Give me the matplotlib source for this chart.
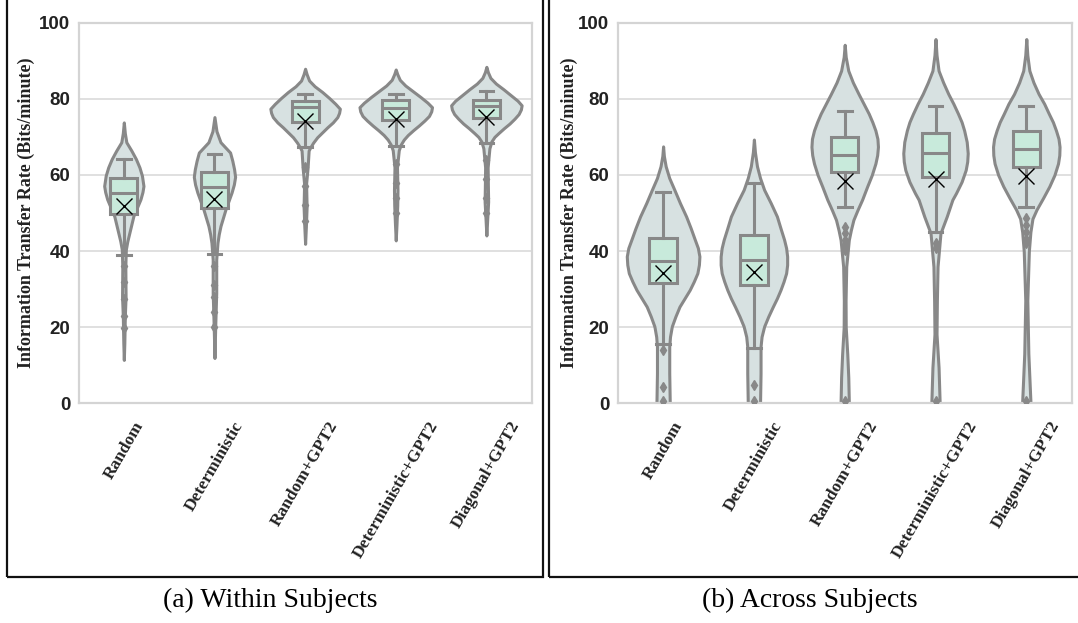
import numpy as np
import matplotlib
matplotlib.use("Agg")
import matplotlib.pyplot as plt
from matplotlib.patches import Rectangle

categories = ["Random", "Deterministic", "Random+GPT2", "Deterministic+GPT2", "Diagonal+GPT2"]

# ---- (a) within subjects ----
# box statistics
a_whislo = [38.9, 39.3, 67.3, 67.6, 68.4]
a_q1 = [49.7, 51.3, 74.0, 74.5, 74.9]
a_med = [55.2, 56.9, 77.8, 77.6, 78.0]
a_q3 = [59.3, 60.8, 79.3, 79.6, 79.8]
a_whishi = [64.2, 65.5, 81.3, 81.3, 82.0]
a_mean = [51.9, 53.6, 74.3, 74.8, 75.2]
a_fliers = [[36, 32, 27.3, 22.9, 19.8], [36, 31, 28, 24, 20],
            [62, 57, 52, 48], [63, 58, 54, 50], [64, 59, 54, 50]]
# violin outline: values and relative density
a_kde_y = [
    [11.4, 15.8, 22.9, 28, 36, 40.4, 42.6, 44.8, 47, 49.2, 51.4, 53.6, 55.5, 57.1, 59.8, 62, 64.2, 66.4, 68.6, 71, 73.8],
    [11.9, 20.2, 29, 37.8, 42.2, 44.4, 46.6, 48.8, 51, 53.2, 55.4, 57.5, 59.5, 61.5, 63.7, 65.9, 68.6, 71.5, 75.2],
    [41.9, 46.3, 51.6, 57.7, 62, 66.4, 67.2, 68.5, 69.9, 71.2, 72.5, 73.8, 75.2, 76.3, 77.4, 78.7, 80.2, 81.8, 83.3, 84.8, 86.5, 87.9],
    [42.8, 47, 52, 56, 62, 66.5, 68, 69.3, 70.5, 71.8, 73, 74.3, 75.5, 76.7, 77.8, 79, 80.5, 82, 83.5, 85, 86.5, 87.7],
    [44.1, 48, 53, 57, 62, 67, 68.8, 70, 71, 72.3, 73.5, 74.8, 76, 77.2, 78.3, 79.5, 81, 82.5, 84, 85.5, 87, 88.4],
]
a_kde_d = [
    [0, 1, 2, 3.5, 3, 4, 7, 11, 15, 19, 26, 33, 37, 39, 36, 31, 24, 15, 5, 2, 0],
    [0, 1.5, 3.5, 3.5, 6, 8.5, 12, 17, 22, 28, 34, 38.5, 41, 39, 35.5, 31, 12, 4, 0],
    [0, 1.5, 3, 2, 5, 7, 10, 16, 24, 34, 44, 55, 64, 67.5, 69, 60, 48, 34, 19, 8, 3, 0],
    [0, 1.5, 3, 3.5, 2.5, 6, 10, 16, 24, 35, 46, 57, 66, 70.5, 72, 63, 49, 34, 19, 8, 3, 0],
    [0, 1.5, 3.5, 3, 2.5, 6, 10, 16, 24, 35, 46, 56, 64, 68.5, 70, 62, 48, 34, 19, 8, 3, 0],
]

# ---- (b) across subjects ----
b_whislo = [15.6, 14.5, 51.6, 44.9, 51.5]
b_q1 = [31.6, 31.0, 60.9, 59.4, 62.2]
b_med = [37.3, 37.7, 65.2, 65.7, 66.7]
b_q3 = [43.4, 44.3, 70.0, 71.0, 71.5]
b_whishi = [55.4, 57.9, 76.8, 78.0, 78.0]
b_mean = [34.2, 34.6, 58.5, 58.9, 59.6]
b_fliers = [[13.9, 4.2, 0.5], [4.8, 0.5],
            [46.4, 44.7, 42.9, 41.6, 40.3, 0.5], [42, 40.7, 0.5],
            [48.6, 46.9, 45.1, 43.3, 42, 0.5]]
b_kde_y = [
    [-4, 0, 7.9, 14.9, 17.5, 20.2, 22.8, 25.4, 27.6, 29.8, 32, 34.2, 36.4, 38.6, 40.8, 43, 46, 49.1, 52.6, 56.1, 59.2, 62.3, 65, 67.5],
    [-4, 0, 7.9, 14.9, 17.5, 20.2, 22.8, 25.4, 27.6, 29.8, 32, 34.2, 36.4, 38.6, 40.8, 43, 46, 49.1, 52.6, 56.1, 59.2, 62.3, 66, 69.3],
    [-4, 0.6, 6.8, 13, 20, 27, 35.9, 42.9, 45.5, 48.2, 50.8, 53.5, 57, 60, 63, 65.2, 67.4, 69.5, 71.7, 73.9, 76.1, 78.7, 81.3, 84.3, 87.4, 91, 94.2],
    [-4, 0.6, 9.4, 18.2, 27, 35.9, 44.7, 49.1, 53.5, 55.2, 58.2, 61.3, 63.5, 65.7, 68.7, 71.7, 73.9, 76.1, 78.7, 81.3, 84.3, 87.4, 91.5, 95.7],
    [-4, 0.6, 13, 27, 40, 45, 48.5, 50.9, 54, 57, 60, 63, 65.2, 67.4, 69.5, 71.7, 73.9, 76.1, 78.7, 81.3, 84.3, 87.4, 91.5, 95.7],
]
b_kde_d = [
    [11, 13, 12, 12, 13.5, 17, 24, 32, 42, 52, 60, 67, 70, 71, 68, 62, 54, 45, 33, 22, 12, 5, 1.5, 0],
    [10, 12, 13, 13, 15, 20, 28, 37, 45, 52, 58, 63, 65, 65, 63, 59, 52, 45, 33, 20, 12, 6, 2, 0],
    [7, 8, 7, 5, 2, 1.7, 3, 8, 12, 17, 25, 34, 44, 53, 60, 63.5, 65, 64, 60, 54, 47, 37, 27, 16, 7, 2, 0],
    [7, 8, 6, 2, 2.7, 4, 9.7, 22, 33, 40, 51, 59, 62, 63, 61, 56, 51, 44, 35, 25, 15, 6, 2, 0],
    [7, 8, 4, 2, 5, 8, 12, 20, 33, 45, 55, 62, 64.5, 65, 63, 58, 52, 44, 35, 24, 14, 6, 2, 0],
]

yticks = [0, 20, 40, 60, 80, 100]

LINE = "#888888"
VIOLIN_FACE = "#d7e1e1"
BOX_FACE = "#c8eadb"
SERIF = ["Liberation Serif", "DejaVu Serif"]
SANS = ["Liberation Sans", "DejaVu Sans"]


def draw_panel(ax, whislo, q1, med, q3, whishi, mean, fliers, kde_y, kde_d):
    pos = np.arange(len(categories))
    dmax = max(max(d) for d in kde_d)

    # violins (area scaling like seaborn)
    vpstats = []
    widths = []
    for ys, ds in zip(kde_y, kde_d):
        vpstats.append(dict(coords=np.array(ys, float), vals=np.array(ds, float),
                            mean=0, median=0, min=min(ys), max=max(ys)))
        widths.append(0.8 * max(ds) / dmax)
    vp = ax.violin(vpstats, positions=pos, widths=widths, showmeans=False,
                   showextrema=False, showmedians=False)
    for body in vp["bodies"]:
        body.set_facecolor(VIOLIN_FACE)
        body.set_edgecolor(LINE)
        body.set_linewidth(2.2)
        body.set_joinstyle("round")
        body.set_alpha(1)
        body.set_zorder(2)

    # boxes
    bstats = []
    for i in range(len(categories)):
        bstats.append(dict(whislo=whislo[i], q1=q1[i], med=med[i], q3=q3[i],
                           whishi=whishi[i], mean=mean[i], fliers=fliers[i]))
    bp = ax.bxp(bstats, positions=pos, widths=0.3, capwidths=0.15, patch_artist=True,
                showmeans=True, manage_ticks=False,
                boxprops=dict(facecolor=BOX_FACE, edgecolor=LINE, linewidth=2.2),
                whiskerprops=dict(color=LINE, linewidth=2.2),
                capprops=dict(color=LINE, linewidth=2.2),
                medianprops=dict(color=LINE, linewidth=2.2),
                meanprops=dict(marker="x", markeredgecolor="black", markersize=12,
                               markeredgewidth=1.0),
                flierprops=dict(marker="d", markerfacecolor=LINE, markeredgecolor=LINE,
                                markersize=5))
    for b in bp["boxes"]:
        b.set_zorder(3)
    for key in ["whiskers", "caps", "medians", "fliers"]:
        for ln in bp[key]:
            ln.set_zorder(4)
    for ln in bp["means"]:
        ln.set_zorder(5)

    ax.set_xlim(-0.5, len(categories) - 0.5)
    ax.set_ylim(0, 100)
    ax.set_yticks(yticks)
    ax.set_yticklabels([str(t) for t in yticks], fontsize=13.5, fontweight="bold",
                       family=SANS, color="#222222")
    ax.set_xticks(pos)
    ax.set_xticklabels(categories, rotation=60, ha="center", va="top",
                       fontsize=12.5, fontweight="bold", family=SERIF,
                       color="#222222")

    ax.tick_params(length=0)
    ax.tick_params(axis="y", pad=6)
    ax.tick_params(axis="x", pad=11)
    ax.set_axisbelow(True)
    ax.grid(axis="y", color="#dddddd", linewidth=1.3)
    ax.grid(axis="x", visible=False)
    for s in ax.spines.values():
        s.set_color("#d4d4d4")
        s.set_linewidth(1.6)
    ax.set_ylabel("Information Transfer Rate (Bits/minute)", fontsize=13,
                  fontweight="bold", family=SERIF, color="#222222")


W, H = 1078, 623
fig = plt.figure(figsize=(W / 100, H / 100), dpi=100)

ax1 = fig.add_axes([78.5 / W, 1 - 403.3 / H, 453.2 / W, 380.6 / H])
ax2 = fig.add_axes([617.7 / W, 1 - 403.3 / H, 454 / W, 380.6 / H])

draw_panel(ax1, a_whislo, a_q1, a_med, a_q3, a_whishi, a_mean, a_fliers, a_kde_y, a_kde_d)
draw_panel(ax2, b_whislo, b_q1, b_med, b_q3, b_whishi, b_mean, b_fliers, b_kde_y, b_kde_d)
ax1.yaxis.set_label_coords(-0.095, 0.5)
ax2.yaxis.set_label_coords(-0.087, 0.5)

# panel frames
fig.patches.append(Rectangle((6.5 / W, 1 - 577 / H), (543.3 - 6.5) / W, 580 / H,
                             transform=fig.transFigure, fill=False,
                             edgecolor="#111111", linewidth=1.6))
fig.patches.append(Rectangle((549 / W, 1 - 577 / H), (1085 - 549) / W, 580 / H,
                             transform=fig.transFigure, fill=False,
                             edgecolor="#111111", linewidth=1.6))

fig.text(270 / W, 1 - 600 / H, "(a) Within Subjects", ha="center", va="center",
         fontsize=20, family=SERIF)
fig.text(810 / W, 1 - 600 / H, "(b) Across Subjects", ha="center", va="center",
         fontsize=20, family=SERIF)

fig.savefig("out.png", dpi=100)
